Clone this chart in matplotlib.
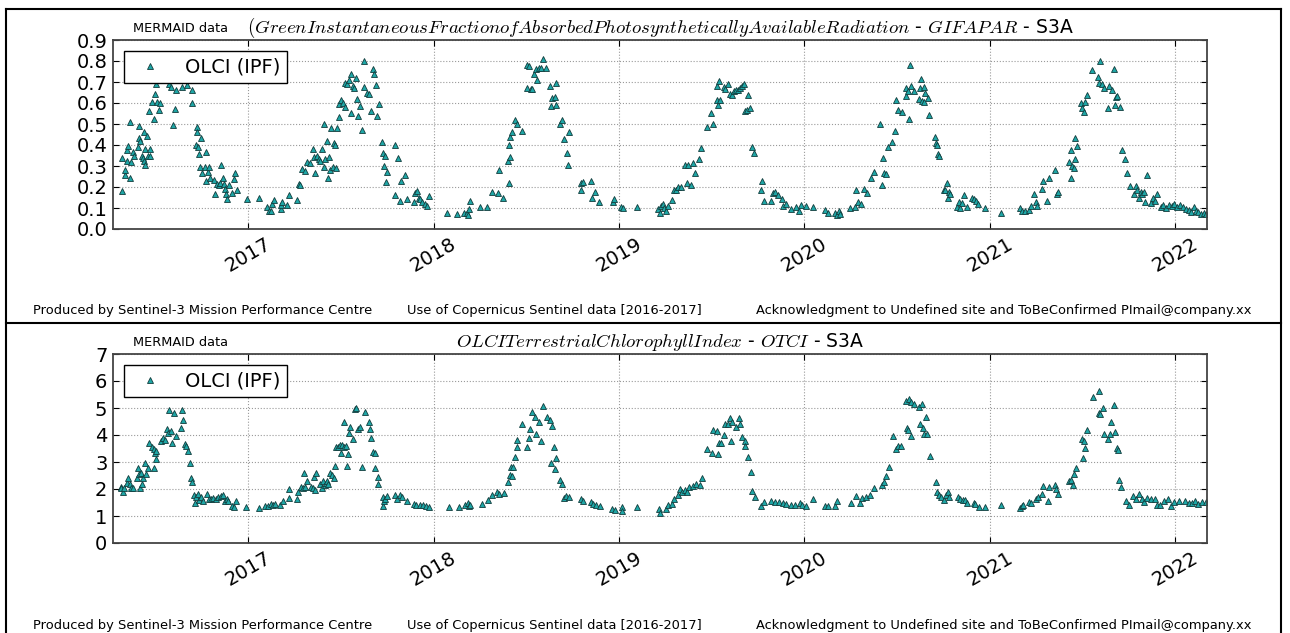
import datetime as dt

import matplotlib
matplotlib.use('Agg')
import matplotlib.pyplot as plt
import matplotlib.dates as mdates
from matplotlib.lines import Line2D

plt.rcParams['font.family'] = 'DejaVu Sans'
plt.rcParams['mathtext.fontset'] = 'cm'

# GIFAPAR samples, (decimal year, value)
fapar_2016 = [
    (2016.322, 0.18), (2016.322, 0.34), (2016.336, 0.255), (2016.340, 0.28), (2016.349, 0.375),
    (2016.352, 0.395), (2016.350, 0.325), (2016.363, 0.245), (2016.367, 0.51), (2016.372, 0.32),
    (2016.379, 0.365), (2016.385, 0.35), (2016.406, 0.39), (2016.411, 0.435), (2016.415, 0.49),
    (2016.417, 0.42), (2016.428, 0.35), (2016.433, 0.34), (2016.438, 0.46), (2016.442, 0.325),
    (2016.447, 0.305), (2016.447, 0.38), (2016.456, 0.445), (2016.461, 0.35), (2016.465, 0.56),
    (2016.471, 0.35), (2016.474, 0.38), (2016.483, 0.605), (2016.492, 0.525), (2016.498, 0.645),
    (2016.503, 0.69), (2016.510, 0.605), (2016.519, 0.565), (2016.528, 0.60), (2016.573, 0.69),
    (2016.587, 0.675), (2016.596, 0.495), (2016.607, 0.57), (2016.614, 0.66), (2016.645, 0.675),
    (2016.672, 0.685), (2016.699, 0.66), (2016.699, 0.60), (2016.720, 0.40), (2016.726, 0.485),
    (2016.726, 0.46), (2016.731, 0.39), (2016.735, 0.355), (2016.744, 0.435), (2016.740, 0.295),
    (2016.753, 0.265), (2016.767, 0.295), (2016.776, 0.365), (2016.774, 0.23), (2016.785, 0.27),
    (2016.789, 0.295), (2016.797, 0.245), (2016.815, 0.235), (2016.824, 0.165), (2016.833, 0.215),
    (2016.842, 0.21), (2016.851, 0.22), (2016.855, 0.305), (2016.864, 0.245), (2016.869, 0.215),
    (2016.875, 0.19), (2016.882, 0.165), (2016.887, 0.145), (2016.896, 0.21), (2016.911, 0.17),
    (2016.923, 0.24), (2016.932, 0.265), (2016.941, 0.185), (2016.995, 0.145),
]
fapar_2017 = [
    (2017.058, 0.15), (2017.103, 0.105), (2017.112, 0.085), (2017.124, 0.085), (2017.130, 0.12),
    (2017.142, 0.14), (2017.175, 0.095), (2017.180, 0.115), (2017.184, 0.13), (2017.210, 0.115),
    (2017.220, 0.16), (2017.264, 0.14), (2017.273, 0.215), (2017.282, 0.21), (2017.291, 0.285),
    (2017.309, 0.275), (2017.318, 0.32), (2017.336, 0.315), (2017.348, 0.38), (2017.354, 0.345),
    (2017.363, 0.265), (2017.372, 0.35), (2017.381, 0.335), (2017.390, 0.325), (2017.399, 0.38),
    (2017.408, 0.295), (2017.411, 0.50), (2017.417, 0.335), (2017.426, 0.42), (2017.431, 0.245),
    (2017.435, 0.345), (2017.444, 0.28), (2017.449, 0.48), (2017.456, 0.295), (2017.462, 0.41),
    (2017.471, 0.40), (2017.474, 0.29), (2017.480, 0.48), (2017.489, 0.535), (2017.492, 0.595),
    (2017.501, 0.615), (2017.510, 0.60), (2017.521, 0.58), (2017.525, 0.695), (2017.534, 0.69),
    (2017.543, 0.71), (2017.553, 0.55), (2017.556, 0.74), (2017.564, 0.68), (2017.573, 0.67),
    (2017.584, 0.72), (2017.587, 0.62), (2017.593, 0.54), (2017.602, 0.585), (2017.614, 0.47),
    (2017.623, 0.80), (2017.626, 0.675), (2017.641, 0.65), (2017.652, 0.645), (2017.663, 0.56),
    (2017.674, 0.76), (2017.681, 0.74), (2017.688, 0.685), (2017.695, 0.54), (2017.704, 0.595),
    (2017.722, 0.415), (2017.725, 0.36), (2017.740, 0.35), (2017.731, 0.30), (2017.742, 0.225),
    (2017.749, 0.27), (2017.790, 0.40), (2017.808, 0.34), (2017.794, 0.16), (2017.817, 0.135),
    (2017.826, 0.23), (2017.844, 0.255), (2017.857, 0.145), (2017.893, 0.13), (2017.898, 0.17),
    (2017.911, 0.18), (2017.920, 0.15), (2017.929, 0.145), (2017.938, 0.13), (2017.956, 0.12),
    (2017.965, 0.11), (2017.977, 0.155),
]
fapar_2018 = [
    (2018.072, 0.075), (2018.126, 0.07), (2018.162, 0.075), (2018.180, 0.075), (2018.184, 0.065),
    (2018.189, 0.095), (2018.198, 0.135), (2018.252, 0.105), (2018.288, 0.105), (2018.315, 0.175),
    (2018.350, 0.17), (2018.352, 0.28), (2018.377, 0.15), (2018.407, 0.22), (2018.402, 0.325),
    (2018.413, 0.345), (2018.409, 0.40), (2018.415, 0.44), (2018.425, 0.46), (2018.440, 0.52),
    (2018.449, 0.50), (2018.479, 0.465), (2018.503, 0.67), (2018.506, 0.78), (2018.515, 0.775),
    (2018.524, 0.665), (2018.533, 0.665), (2018.542, 0.74), (2018.551, 0.76), (2018.557, 0.71),
    (2018.569, 0.765), (2018.582, 0.765), (2018.589, 0.81), (2018.609, 0.765), (2018.629, 0.68),
    (2018.632, 0.585), (2018.641, 0.625), (2018.654, 0.63), (2018.659, 0.695), (2018.663, 0.59),
    (2018.681, 0.50), (2018.692, 0.52), (2018.704, 0.43), (2018.719, 0.36), (2018.726, 0.305),
    (2018.731, 0.46), (2018.795, 0.185), (2018.797, 0.22), (2018.804, 0.225), (2018.849, 0.23),
    (2018.854, 0.15), (2018.872, 0.175), (2018.894, 0.13), (2018.966, 0.13), (2018.975, 0.145),
]
fapar_2019 = [
    (2019.011, 0.105), (2019.020, 0.10), (2019.097, 0.105), (2019.209, 0.095), (2019.222, 0.075),
    (2019.227, 0.11), (2019.236, 0.12), (2019.245, 0.10), (2019.254, 0.085), (2019.263, 0.11),
    (2019.286, 0.14), (2019.295, 0.185), (2019.308, 0.185), (2019.321, 0.20), (2019.335, 0.20),
    (2019.357, 0.305), (2019.367, 0.22), (2019.371, 0.305), (2019.389, 0.21), (2019.402, 0.315),
    (2019.412, 0.265), (2019.434, 0.335), (2019.443, 0.385), (2019.474, 0.485), (2019.497, 0.55),
    (2019.510, 0.50), (2019.528, 0.615), (2019.530, 0.68), (2019.537, 0.59), (2019.542, 0.705),
    (2019.546, 0.615), (2019.566, 0.675), (2019.575, 0.665), (2019.591, 0.69), (2019.602, 0.645),
    (2019.609, 0.64), (2019.623, 0.655), (2019.632, 0.66), (2019.645, 0.66), (2019.656, 0.67),
    (2019.665, 0.68), (2019.677, 0.69), (2019.683, 0.56), (2019.690, 0.565), (2019.695, 0.64),
    (2019.710, 0.575), (2019.719, 0.39), (2019.731, 0.36), (2019.767, 0.185), (2019.773, 0.23),
    (2019.782, 0.135), (2019.818, 0.135), (2019.831, 0.17), (2019.840, 0.175), (2019.858, 0.16),
    (2019.879, 0.145), (2019.885, 0.11), (2019.903, 0.12), (2019.930, 0.095), (2019.957, 0.105),
    (2019.971, 0.085), (2019.984, 0.115),
]
fapar_2020 = [
    (2020.011, 0.11), (2020.047, 0.105), (2020.110, 0.09), (2020.128, 0.075), (2020.164, 0.075),
    (2020.176, 0.065), (2020.185, 0.085), (2020.191, 0.07), (2020.245, 0.10), (2020.272, 0.105),
    (2020.281, 0.185), (2020.290, 0.13), (2020.308, 0.12), (2020.322, 0.19), (2020.335, 0.17),
    (2020.357, 0.245), (2020.375, 0.27), (2020.407, 0.50), (2020.421, 0.21), (2020.426, 0.34),
    (2020.430, 0.265), (2020.441, 0.26), (2020.453, 0.39), (2020.471, 0.415), (2020.486, 0.465),
    (2020.495, 0.615), (2020.504, 0.565), (2020.525, 0.555), (2020.547, 0.635), (2020.549, 0.67),
    (2020.558, 0.655), (2020.561, 0.525), (2020.567, 0.78), (2020.574, 0.68), (2020.588, 0.655),
    (2020.619, 0.62), (2020.621, 0.67), (2020.630, 0.715), (2020.633, 0.61), (2020.642, 0.675),
    (2020.645, 0.605), (2020.651, 0.65), (2020.664, 0.625), (2020.673, 0.545), (2020.705, 0.44),
    (2020.711, 0.41), (2020.715, 0.40), (2020.720, 0.355), (2020.727, 0.35), (2020.750, 0.185),
    (2020.759, 0.185), (2020.768, 0.22), (2020.772, 0.15), (2020.777, 0.175), (2020.782, 0.165),
    (2020.823, 0.105), (2020.832, 0.13), (2020.840, 0.10), (2020.850, 0.125), (2020.862, 0.16),
    (2020.873, 0.105), (2020.904, 0.15), (2020.913, 0.145), (2020.922, 0.135), (2020.934, 0.12),
    (2020.970, 0.10),
]
fapar_2021 = [
    (2021.057, 0.075), (2021.161, 0.10), (2021.174, 0.085), (2021.186, 0.085), (2021.210, 0.09),
    (2021.219, 0.11), (2021.237, 0.165), (2021.246, 0.13), (2021.255, 0.11), (2021.282, 0.19),
    (2021.284, 0.23), (2021.309, 0.135), (2021.318, 0.245), (2021.350, 0.28), (2021.359, 0.165),
    (2021.367, 0.175), (2021.426, 0.32), (2021.435, 0.245), (2021.437, 0.375), (2021.444, 0.30),
    (2021.450, 0.29), (2021.457, 0.435), (2021.459, 0.335), (2021.468, 0.395), (2021.489, 0.60),
    (2021.498, 0.575), (2021.507, 0.555), (2021.513, 0.605), (2021.520, 0.64), (2021.552, 0.755),
    (2021.583, 0.725), (2021.588, 0.695), (2021.594, 0.80), (2021.606, 0.69), (2021.612, 0.67),
    (2021.637, 0.575), (2021.642, 0.68), (2021.655, 0.66), (2021.666, 0.76), (2021.675, 0.59),
    (2021.678, 0.63), (2021.687, 0.635), (2021.702, 0.58), (2021.709, 0.375), (2021.729, 0.335),
    (2021.738, 0.265), (2021.756, 0.205), (2021.774, 0.165), (2021.786, 0.205), (2021.792, 0.185),
    (2021.804, 0.15), (2021.813, 0.175), (2021.822, 0.165), (2021.832, 0.175), (2021.837, 0.13),
    (2021.846, 0.255), (2021.868, 0.125), (2021.880, 0.15), (2021.889, 0.135), (2021.898, 0.165),
    (2021.922, 0.105), (2021.934, 0.115), (2021.949, 0.10), (2021.967, 0.115), (2021.979, 0.11),
    (2021.994, 0.12),
]
fapar_2022 = [
    (2022.008, 0.105), (2022.026, 0.115), (2022.039, 0.105), (2022.057, 0.095), (2022.075, 0.09),
    (2022.084, 0.08), (2022.102, 0.105), (2022.111, 0.085), (2022.123, 0.08), (2022.138, 0.07),
    (2022.156, 0.075), (2022.165, 0.07),
]

# OTCI samples, (decimal year, value)
otci_2016 = [
    (2016.314, 2.09), (2016.316, 2.03), (2016.329, 1.90), (2016.333, 2.03), (2016.349, 2.22),
    (2016.356, 2.41), (2016.362, 2.18), (2016.368, 2.03), (2016.382, 2.03), (2016.401, 2.41),
    (2016.407, 2.77), (2016.414, 2.54), (2016.420, 2.03), (2016.430, 2.18), (2016.426, 2.61),
    (2016.436, 2.41), (2016.445, 2.95), (2016.453, 2.57), (2016.459, 2.77), (2016.468, 3.70),
    (2016.484, 3.55), (2016.492, 3.47), (2016.498, 3.34), (2016.503, 3.42), (2016.507, 3.12),
    (2016.492, 2.77), (2016.530, 3.77), (2016.542, 3.90), (2016.552, 3.83), (2016.565, 4.22),
    (2016.571, 4.09), (2016.575, 4.93), (2016.584, 4.16), (2016.590, 3.70), (2016.600, 4.80),
    (2016.610, 3.96), (2016.639, 4.25), (2016.646, 4.93), (2016.652, 4.54), (2016.658, 3.68),
    (2016.666, 3.60), (2016.675, 3.42), (2016.685, 2.95), (2016.695, 2.39), (2016.700, 2.26),
    (2016.710, 1.77), (2016.716, 1.48), (2016.720, 1.70), (2016.729, 1.83), (2016.735, 1.61),
    (2016.749, 1.70), (2016.758, 1.54), (2016.778, 1.83), (2016.787, 1.64), (2016.801, 1.64),
    (2016.813, 1.66), (2016.826, 1.64), (2016.840, 1.70), (2016.855, 1.74), (2016.865, 1.77),
    (2016.874, 1.57), (2016.884, 1.64), (2016.894, 1.54), (2016.913, 1.38), (2016.923, 1.35),
    (2016.936, 1.57), (2016.990, 1.35),
]
otci_2017 = [
    (2017.058, 1.28), (2017.091, 1.38), (2017.106, 1.38), (2017.122, 1.45), (2017.135, 1.41),
    (2017.145, 1.45), (2017.174, 1.41), (2017.187, 1.54), (2017.218, 1.66), (2017.222, 2.00),
    (2017.265, 1.64), (2017.271, 1.90), (2017.284, 2.09), (2017.296, 2.03), (2017.303, 2.61),
    (2017.309, 2.09), (2017.319, 2.31), (2017.338, 2.09), (2017.348, 2.03), (2017.354, 2.44),
    (2017.360, 1.96), (2017.367, 2.61), (2017.386, 2.18), (2017.396, 2.03), (2017.406, 2.31),
    (2017.412, 2.15), (2017.419, 2.22), (2017.427, 2.31), (2017.431, 2.18), (2017.444, 2.61),
    (2017.454, 2.52), (2017.464, 2.41), (2017.470, 2.86), (2017.473, 3.55), (2017.483, 3.57),
    (2017.493, 3.64), (2017.502, 3.34), (2017.508, 3.64), (2017.518, 3.55), (2017.518, 4.50),
    (2017.527, 3.61), (2017.531, 2.86), (2017.541, 3.28), (2017.545, 4.09), (2017.551, 4.28),
    (2017.566, 3.87), (2017.574, 4.97), (2017.584, 5.00), (2017.593, 4.22), (2017.605, 4.28),
    (2017.613, 2.83), (2017.628, 4.86), (2017.651, 4.50), (2017.657, 4.22), (2017.663, 3.90),
    (2017.676, 3.38), (2017.682, 2.77), (2017.686, 3.32), (2017.699, 2.18), (2017.701, 2.44),
    (2017.725, 1.38), (2017.729, 1.70), (2017.733, 1.54), (2017.740, 1.64), (2017.748, 1.74),
    (2017.792, 1.79), (2017.802, 1.64), (2017.817, 1.79), (2017.831, 1.70), (2017.856, 1.54),
    (2017.895, 1.45), (2017.908, 1.41), (2017.927, 1.41), (2017.941, 1.41), (2017.957, 1.38),
    (2017.976, 1.32),
]
otci_2018 = [
    (2018.082, 1.35), (2018.136, 1.35), (2018.169, 1.41), (2018.188, 1.48), (2018.192, 1.38),
    (2018.198, 1.41), (2018.262, 1.45), (2018.295, 1.61), (2018.314, 1.79), (2018.343, 1.90),
    (2018.353, 1.83), (2018.382, 1.87), (2018.401, 2.26), (2018.411, 2.52), (2018.416, 2.80),
    (2018.424, 2.48), (2018.430, 2.80), (2018.440, 3.19), (2018.449, 3.81), (2018.449, 3.57),
    (2018.478, 4.41), (2018.507, 3.55), (2018.513, 3.90), (2018.523, 4.22), (2018.532, 4.86),
    (2018.546, 4.67), (2018.555, 4.03), (2018.570, 4.48), (2018.581, 3.77), (2018.590, 5.06),
    (2018.610, 4.67), (2018.629, 4.54), (2018.633, 2.95), (2018.637, 4.35), (2018.652, 3.57),
    (2018.656, 2.74), (2018.662, 3.16), (2018.681, 2.35), (2018.691, 2.18), (2018.706, 1.66),
    (2018.714, 1.74), (2018.729, 1.70), (2018.797, 1.64), (2018.807, 1.54), (2018.849, 1.51),
    (2018.861, 1.45), (2018.874, 1.41), (2018.899, 1.38), (2018.961, 1.25), (2018.977, 1.23),
]
otci_2019 = [
    (2019.015, 1.32), (2019.019, 1.19), (2019.097, 1.34), (2019.217, 1.25), (2019.222, 1.12),
    (2019.253, 1.25), (2019.267, 1.41), (2019.287, 1.45), (2019.297, 1.62), (2019.318, 1.77),
    (2019.328, 2.00), (2019.338, 1.90), (2019.358, 1.97), (2019.368, 1.90), (2019.378, 2.06),
    (2019.399, 2.10), (2019.415, 2.19), (2019.435, 2.13), (2019.449, 2.42), (2019.476, 3.48),
    (2019.500, 3.35), (2019.510, 4.17), (2019.530, 4.13), (2019.536, 3.30), (2019.540, 3.71),
    (2019.551, 3.71), (2019.565, 4.00), (2019.573, 4.42), (2019.591, 4.42), (2019.601, 4.64),
    (2019.605, 3.78), (2019.611, 4.49), (2019.631, 4.29), (2019.646, 4.62), (2019.656, 4.39),
    (2019.666, 3.91), (2019.678, 3.78), (2019.682, 3.61), (2019.698, 3.20), (2019.712, 2.64),
    (2019.718, 1.93), (2019.733, 1.71), (2019.767, 1.38), (2019.783, 1.51), (2019.820, 1.54),
    (2019.840, 1.51), (2019.864, 1.51), (2019.885, 1.49), (2019.901, 1.45), (2019.929, 1.41),
    (2019.951, 1.41), (2019.976, 1.49), (2019.986, 1.41),
]
otci_2020 = [
    (2020.010, 1.38), (2020.047, 1.62), (2020.111, 1.38), (2020.127, 1.36), (2020.168, 1.38),
    (2020.178, 1.54), (2020.249, 1.49), (2020.279, 1.75), (2020.299, 1.49), (2020.310, 1.67),
    (2020.330, 1.71), (2020.354, 1.77), (2020.374, 2.03), (2020.421, 2.16), (2020.427, 2.26),
    (2020.441, 2.48), (2020.455, 2.81), (2020.475, 3.95), (2020.492, 3.48), (2020.502, 3.58),
    (2020.522, 3.61), (2020.548, 5.27), (2020.552, 4.26), (2020.558, 4.20), (2020.563, 5.33),
    (2020.573, 5.24), (2020.575, 3.95), (2020.593, 5.16), (2020.617, 5.03), (2020.623, 4.39),
    (2020.634, 5.14), (2020.638, 4.26), (2020.644, 4.04), (2020.654, 4.68), (2020.658, 4.04),
    (2020.674, 3.22), (2020.708, 2.26), (2020.715, 1.90), (2020.725, 1.77), (2020.735, 1.71),
    (2020.751, 1.58), (2020.765, 1.77), (2020.775, 1.88), (2020.781, 1.71), (2020.826, 1.71),
    (2020.840, 1.64), (2020.852, 1.58), (2020.866, 1.58), (2020.876, 1.49), (2020.913, 1.49),
    (2020.921, 1.45), (2020.941, 1.32), (2020.974, 1.32),
]
otci_2021 = [
    (2021.059, 1.41), (2021.160, 1.28), (2021.170, 1.36), (2021.180, 1.41), (2021.210, 1.51),
    (2021.220, 1.49), (2021.245, 1.64), (2021.257, 1.71), (2021.281, 1.80), (2021.285, 2.10),
    (2021.312, 1.54), (2021.318, 2.06), (2021.352, 2.16), (2021.358, 2.00), (2021.366, 1.80),
    (2021.427, 2.29), (2021.439, 2.35), (2021.447, 2.13), (2021.453, 2.55), (2021.463, 2.78),
    (2021.494, 3.87), (2021.500, 3.16), (2021.504, 3.78), (2021.514, 3.52), (2021.524, 4.20),
    (2021.555, 5.39), (2021.585, 4.81), (2021.589, 5.63), (2021.595, 4.77), (2021.611, 5.01),
    (2021.615, 4.04), (2021.636, 3.87), (2021.646, 4.04), (2021.650, 4.49), (2021.670, 5.11),
    (2021.676, 4.10), (2021.682, 3.52), (2021.688, 3.45), (2021.696, 2.32), (2021.706, 2.06),
    (2021.731, 1.54), (2021.747, 1.41), (2021.771, 1.75), (2021.787, 1.64), (2021.804, 1.80),
    (2021.818, 1.64), (2021.832, 1.51), (2021.848, 1.67), (2021.868, 1.62), (2021.889, 1.64),
    (2021.899, 1.41), (2021.919, 1.41), (2021.939, 1.54), (2021.959, 1.64), (2021.974, 1.38),
    (2021.994, 1.51),
]
otci_2022 = [
    (2022.020, 1.54), (2022.050, 1.54), (2022.075, 1.49), (2022.091, 1.49), (2022.107, 1.54),
    (2022.121, 1.45), (2022.142, 1.51), (2022.162, 1.51),
]

fapar_yticks = [0.0, 0.1, 0.2, 0.3, 0.4, 0.5, 0.6, 0.7, 0.8, 0.9]
otci_yticks = [0, 1, 2, 3, 4, 5, 6, 7]
time_range = (2016.273, 2022.170)

fapar_title = (r'$(Green Instantaneous Fraction of Absorbed Photosynthetically Available Radiation$'
               r' - $GIFAPAR$ - S3A')
otci_title = r'$OLCI Terrestrial Chlorophyll Index$ - $OTCI$ - S3A'
footer = ['Produced by Sentinel-3 Mission Performance Centre',
          'Use of Copernicus Sentinel data [2016-2017]',
          'Acknowledgment to Undefined site and ToBeConfirmed PImail@company.xx']


def to_date(y):
    year = int(y)
    start = dt.datetime(year, 1, 1)
    ndays = (dt.datetime(year + 1, 1, 1) - start).days
    return start + dt.timedelta(days=(y - year) * ndays)


def unpack(*groups):
    pts = [p for g in groups for p in g]
    return [to_date(t) for t, _ in pts], [v for _, v in pts]


W, H = 1290, 633
fig = plt.figure(figsize=(W / 100, H / 100), dpi=100, facecolor='white')


def panel(top_px, t, v, yticks, title):
    left, right, height = 113, 1207, 189
    ax = fig.add_axes([left / W, 1 - (top_px + height) / H, (right - left) / W, height / H])
    ax.plot(t, v, ls='none', marker='^', ms=4.5, mfc='#1ea6a6', mec='#123c3c',
            mew=0.6, label='OLCI (IPF)')
    ax.set_xlim(to_date(time_range[0]), to_date(time_range[1]))
    ax.set_ylim(yticks[0], yticks[-1])
    ax.set_yticks(yticks)
    if isinstance(yticks[1], float):
        ax.set_yticklabels(['%.1f' % y for y in yticks])
    ax.xaxis.set_major_locator(mdates.YearLocator())
    ax.xaxis.set_major_formatter(mdates.DateFormatter('%Y'))
    ax.tick_params(direction='in', top=True, right=True, length=4, width=0.8,
                   labelsize=14, pad=4)
    for lab in ax.get_xticklabels():
        lab.set_rotation(30)
        lab.set_ha('center')
    ax.grid(True, color='#9a9a9a', ls=':', lw=0.8)
    for sp in ax.spines.values():
        sp.set_color('#444444')
        sp.set_linewidth(1.3)
    leg = ax.legend(loc='upper left', numpoints=1, fontsize=14, fancybox=False,
                    framealpha=1, edgecolor='black', handlelength=2.0,
                    handletextpad=0.8, borderaxespad=0.55, borderpad=0.35)
    leg.get_frame().set_linewidth(1.0)

    head_y = 1 - (top_px - 12) / H
    fig.text(133 / W, head_y, 'MERMAID data', fontsize=9.3, ha='left', va='center')
    fig.text((left + right) / 2 / W, head_y, title, fontsize=13.5, ha='center', va='center')

    foot_y = 1 - (top_px + 271) / H
    for x_px, s in zip([33, 407, 756], footer):
        fig.text(x_px / W, foot_y, s, fontsize=9.4, ha='left', va='center')
    return ax


t1, v1 = unpack(fapar_2016, fapar_2017, fapar_2018, fapar_2019, fapar_2020, fapar_2021, fapar_2022)
t2, v2 = unpack(otci_2016, otci_2017, otci_2018, otci_2019, otci_2020, otci_2021, otci_2022)
panel(40, t1, v1, fapar_yticks, fapar_title)
panel(354, t2, v2, otci_yticks, otci_title)

# cell borders around the two panels
for xs, ys in [((6, 6), (9, H)), ((6, 1281), (9, 9)), ((1281, 1281), (9, H)),
               ((6, 1281), (323, 323))]:
    fig.add_artist(Line2D([x / W for x in xs], [1 - y / H for y in ys],
                          transform=fig.transFigure, color='black', lw=1.5))

fig.savefig('out.png', dpi=100, facecolor='white')
